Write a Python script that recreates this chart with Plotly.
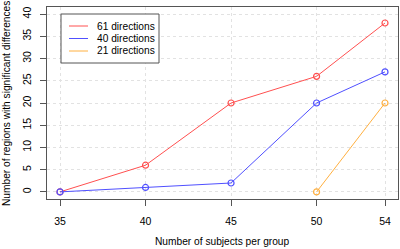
import plotly.graph_objects as go

subjects = [35, 40, 45, 50, 54]
series_names = ["61 directions", "40 directions", "21 directions"]
dir61 = [0, 6, 20, 26, 38]
dir40 = [0, 1, 2, 20, 27]
dir21 = [None, None, None, 0, 20]
colors = ["#ff5050", "#5050ff", "#ffb040"]
x_ticks = [35, 40, 45, 50, 54]
y_ticks = [0, 5, 10, 15, 20, 25, 30, 35, 40]

FONT = "Liberation Sans, Arial, sans-serif"
FS = 10.2
fig = go.Figure()
for name, vals, c in zip(series_names, [dir61, dir40, dir21], colors):
    fig.add_trace(go.Scatter(
        x=subjects, y=vals, name=name, mode="lines+markers",
        line=dict(color=c, width=1),
        marker=dict(symbol="circle-open", size=6, color=c, line=dict(width=1.2, color=c)),
        showlegend=False, connectgaps=False, hoverinfo="skip",
    ))

axis_common = dict(
    showline=True, linecolor="#555555", linewidth=1, mirror=True,
    ticks="outside", ticklen=6, tickcolor="#555555", tickwidth=1,
    showgrid=True, gridcolor="#e2e2e2", griddash="dot", gridwidth=1,
    zeroline=False, tickfont=dict(family=FONT, size=10.5, color="#000000"),
)
fig.update_xaxes(range=[34.24, 54.76], tickvals=x_ticks, ticklabelstandoff=6, **axis_common)
fig.update_yaxes(range=[-1.6, 41.6], tickvals=y_ticks, tickangle=-90, ticklabelstandoff=5, **axis_common)

# Axis titles
fig.add_annotation(text="Number of subjects per group", xref="paper", yref="paper",
                   x=0.5, y=(199 - 241) / 192.0, xanchor="center", yanchor="middle", showarrow=False,
                   font=dict(family=FONT, size=FS, color="#000000"))
fig.add_annotation(text="Number of regions with significant differences", xref="paper", yref="paper",
                   x=(7 - 47) / 351.0, y=(199 - 104) / 192.0, xanchor="center", yanchor="middle",
                   textangle=-90, showarrow=False,
                   font=dict(family=FONT, size=FS, color="#000000"))

# Manual legend (paper coords)
W, H = 351.0, 192.0
def px(xp):
    return (xp - 47) / W
def py(yp):
    return (199 - yp) / H

fig.add_shape(type="rect", xref="paper", yref="paper",
              x0=px(61), x1=px(159), y0=py(63), y1=py(14),
              line=dict(color="#555555", width=1), fillcolor="white", layer="above")
for i, (name, c) in enumerate(zip(series_names, colors)):
    yy = 26 + i * 12.5
    fig.add_shape(type="line", xref="paper", yref="paper",
                  x0=px(69), x1=px(88), y0=py(yy), y1=py(yy),
                  line=dict(color=c, width=1), layer="above")
    fig.add_annotation(text=name, xref="paper", yref="paper", x=px(95), y=py(yy),
                       xanchor="left", yanchor="middle", showarrow=False,
                       font=dict(family=FONT, size=FS, color="#000000"))

fig.update_layout(
    width=400, height=249,
    margin=dict(l=47, r=2, t=7, b=50),
    paper_bgcolor="white", plot_bgcolor="white",
    showlegend=False, hovermode=False,
)
fig.write_html("out.html", config={"displayModeBar": False},
               post_script="document.body.style.margin='0';document.body.style.padding='0';")
